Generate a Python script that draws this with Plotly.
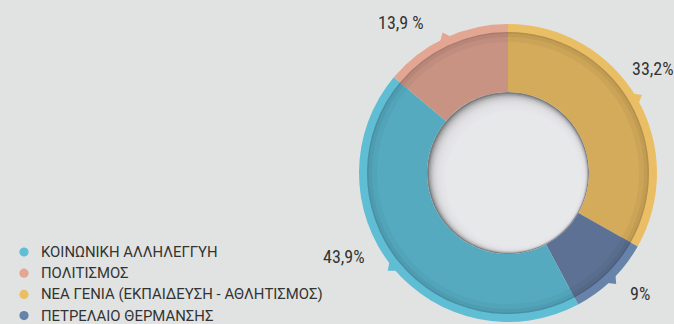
import math
import plotly.graph_objects as go

# Budget shares by programme area (legend order)
categories = [
    "ΚΟΙΝΩΝΙΚΗ ΑΛΛΗΛΕΓΓΥΗ",
    "ΠΟΛΙΤΙΣΜΟΣ",
    "ΝΕΑ ΓΕΝΙΑ (ΕΚΠΑΙΔΕΥΣΗ - ΑΘΛΗΤΙΣΜΟΣ)",
    "ΠΕΤΡΕΛΑΙΟ ΘΕΡΜΑΝΣΗΣ",
]
values = [43.9, 13.9, 33.2, 9]
value_labels = ["43,9%", "13,9 %", "33,2%", "9%"]

# Clockwise order of the slices starting from 12 o'clock
pie_order = [2, 3, 0, 1]

# Colours: bright rim / legend dots, and the deeper inner ring
rim_colors = ["#5FBDD4", "#E3A693", "#EABE64", "#6783A9"]
main_colors = ["#56AAC0", "#C99383", "#D4AA5B", "#5D7194"]

W, H = 674, 324
BG = "#E1E3E2"
HOLE_BG = "#E7E8EA"
CX, CY = 508, 173
R_RIM, R_MAIN, R_HOLE = 149, 141, 81

LABEL_FONT = "Liberation Sans Narrow, Roboto Condensed, Roboto, sans-serif"
LEGEND_FONT = "Roboto, sans-serif"
TEXT = "#333333"


def px(x, y):
    return x / W, 1 - y / H


def domain(r):
    return dict(x=[(CX - r) / W, (CX + r) / W],
                y=[1 - (CY + r) / H, 1 - (CY - r) / H])


def polar(theta_deg, r):
    t = math.radians(theta_deg)
    return CX + r * math.sin(t), CY - r * math.cos(t)


ordered_vals = [values[i] for i in pie_order]
ordered_cats = [categories[i] for i in pie_order]

fig = go.Figure()

common = dict(labels=ordered_cats, values=ordered_vals, sort=False,
              direction="clockwise", rotation=0, textinfo="none",
              hoverinfo="skip", showlegend=False)

# Bright outer rim
fig.add_trace(go.Pie(domain=domain(R_RIM), hole=130 / R_RIM,
                     marker=dict(colors=[rim_colors[i] for i in pie_order],
                                 line=dict(width=0)), **common))
# Main donut ring
fig.add_trace(go.Pie(domain=domain(R_MAIN), hole=R_HOLE / R_MAIN,
                     marker=dict(colors=[main_colors[i] for i in pie_order],
                                 line=dict(width=0)), **common))
# Soft inner shadow along the outer edge of the main ring
for r_in, alpha in [(131, 0.035), (136, 0.045), (139.5, 0.08)]:
    fig.add_trace(go.Pie(domain=domain(R_MAIN), hole=r_in / R_MAIN,
                         marker=dict(colors=[f"rgba(0,0,0,{alpha})"] * len(values),
                                     line=dict(width=0)), **common))

shapes = []


def circle(cx, cy, r, color, opacity=1.0):
    x0, y1 = px(cx - r, cy - r)
    x1, y0 = px(cx + r, cy + r)
    return dict(type="circle", xref="paper", yref="paper",
                x0=x0, x1=x1, y0=y0, y1=y1, fillcolor=color,
                opacity=opacity, line=dict(width=0), layer="below")


# Recessed hole: dark base, lighter discs shifted toward the lower right
shapes.append(circle(CX, CY, R_HOLE, "#7C7D7F"))
N = 12
TL_SPAN, BR_SPAN = 19.0, 3.0
for k in range(1, N + 1):
    t = k / N
    r = R_HOLE - 0.4 - (TL_SPAN + BR_SPAN) / 2 * t
    s = (TL_SPAN - BR_SPAN) / 2 * t / math.sqrt(2)
    shapes.append(circle(CX + s, CY + s, r, HOLE_BG, 0.3))
s_end = (TL_SPAN - BR_SPAN) / 2 / math.sqrt(2)
shapes.append(circle(CX + s_end, CY + s_end,
                     R_HOLE - (TL_SPAN + BR_SPAN) / 2 - 2, HOLE_BG))

# Pointer notches on the rim and value labels
label_offsets = [(-44, -14), (-41, -10), (11, -26.5), (24, 10)]
annotations = []
cum = 0.0
total = sum(values)
mids = {}
for i in pie_order:
    span = values[i] / total * 360
    mids[i] = cum + span / 2
    cum += span

for i in range(len(values)):
    th = mids[i]
    b1 = polar(th - 2.6, R_RIM - 2)
    b2 = polar(th + 2.6, R_RIM - 2)
    tip = polar(th, R_RIM + 6)
    pts = [px(*b1), px(*tip), px(*b2)]
    path = "M {} {} L {} {} L {} {} Z".format(
        pts[0][0], pts[0][1], pts[1][0], pts[1][1], pts[2][0], pts[2][1])
    shapes.append(dict(type="path", xref="paper", yref="paper", path=path,
                       fillcolor=rim_colors[i], line=dict(width=0), layer="below"))
    dx, dy = label_offsets[i]
    lx, ly = px(tip[0] + dx, tip[1] + dy)
    annotations.append(dict(x=lx, y=ly, xref="paper", yref="paper",
                            text=value_labels[i], showarrow=False,
                            xanchor="center", yanchor="middle",
                            font=dict(family=LABEL_FONT, size=18, color=TEXT)))

# Legend: coloured dots with labels
LEG_X_DOT, LEG_X_TEXT, LEG_Y0, LEG_DY = 24, 39, 252, 21.2
for i, cat in enumerate(categories):
    y = LEG_Y0 + i * LEG_DY
    shapes.append(circle(LEG_X_DOT, y, 4.6, rim_colors[i]))
    tx, ty = px(LEG_X_TEXT, y)
    annotations.append(dict(x=tx, y=ty, xref="paper", yref="paper", text=cat,
                            showarrow=False, xanchor="left", yanchor="middle",
                            font=dict(family=LEGEND_FONT, size=14.9, color=TEXT)))

fig.update_layout(width=W, height=H, margin=dict(l=0, r=0, t=0, b=0),
                  paper_bgcolor=BG, plot_bgcolor=BG,
                  shapes=shapes, annotations=annotations)

fig.write_html("out.html")
